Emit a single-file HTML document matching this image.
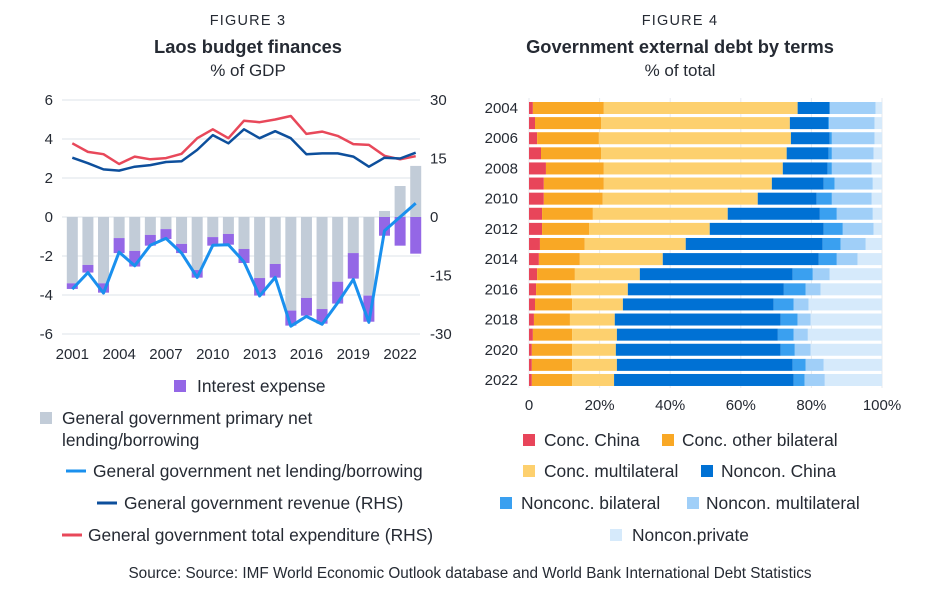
<!DOCTYPE html>
<html><head><meta charset="utf-8"><style>
body{margin:0;background:#fff;}
svg text{font-family:"Liberation Sans",sans-serif;fill:#252a33;}
</style></head><body>
<svg id="s" width="946" height="594" viewBox="0 0 946 594" xmlns="http://www.w3.org/2000/svg">
<text x="248" y="25" text-anchor="middle" font-size="14.5" letter-spacing="1.2">FIGURE 3</text>
<text x="248" y="53" text-anchor="middle" font-size="18.3" font-weight="bold">Laos budget finances</text>
<text x="248" y="76" text-anchor="middle" font-size="17">% of GDP</text>
<text x="680" y="25" text-anchor="middle" font-size="14.5" letter-spacing="1.2">FIGURE 4</text>
<text x="680" y="53" text-anchor="middle" font-size="18.3" font-weight="bold">Government external debt by terms</text>
<text x="680" y="76" text-anchor="middle" font-size="17">% of total</text>
<g id="left"></g>
<g id="right"></g>
<g font-size="17.4">
<rect x="174" y="380" width="12" height="12" fill="#9467e6"/>
<text x="197" y="392">Interest expense</text>
<rect x="40" y="412" width="12" height="12" fill="#c2ccd8"/>
<text x="62" y="424">General government primary net</text>
<text x="62" y="446">lending/borrowing</text>
<line x1="66" y1="471" x2="86" y2="471" stroke="#1a90ee" stroke-width="3"/>
<text x="93" y="477">General government net lending/borrowing</text>
<line x1="97" y1="503" x2="117" y2="503" stroke="#0d4f9c" stroke-width="3"/>
<text x="124" y="509">General government revenue (RHS)</text>
<line x1="62" y1="535" x2="82" y2="535" stroke="#e8485a" stroke-width="3"/>
<text x="88" y="541">General government total expenditure (RHS)</text>
</g>
<g font-size="17.4">
<rect x="523" y="434" width="12" height="12" fill="#e8455a"/>
<text x="544" y="446">Conc. China</text>
<rect x="662" y="434" width="12" height="12" fill="#f9a825"/>
<text x="682" y="446">Conc. other bilateral</text>
<rect x="523" y="465" width="12" height="12" fill="#fdd06e"/>
<text x="544" y="477">Conc. multilateral</text>
<rect x="701" y="465" width="12" height="12" fill="#0071d4"/>
<text x="721" y="477">Noncon. China</text>
<rect x="500" y="497" width="12" height="12" fill="#3aa0f0"/>
<text x="521" y="509">Nonconc. bilateral</text>
<rect x="687" y="497" width="12" height="12" fill="#a0cff8"/>
<text x="706" y="509">Noncon. multilateral</text>
<rect x="610" y="529" width="12" height="12" fill="#d6eafb"/>
<text x="632" y="541">Noncon.private</text>
</g>
<text x="470" y="578" text-anchor="middle" font-size="15.3">Source: Source: IMF World Economic Outlook database and World Bank International Debt Statistics</text>
</svg>
<script>
const years = [2001,2002,2003,2004,2005,2006,2007,2008,2009,2010,2011,2012,2013,2014,2015,2016,2017,2018,2019,2020,2021,2022,2023];
const primary = [-3.4,-2.46,-3.4,-1.08,-1.74,-0.92,-0.62,-1.38,-2.72,-1.03,-0.87,-1.64,-3.13,-2.41,-4.8,-4.15,-4.72,-3.32,-1.85,-4.03,0.31,1.59,2.62];
const interest = [0.29,0.39,0.48,0.77,0.8,0.55,0.51,0.47,0.39,0.44,0.55,0.72,0.9,0.7,0.77,0.91,0.75,1.12,1.31,1.34,0.96,1.47,1.88];
const netLending = [-3.7,-2.85,-3.9,-1.8,-2.5,-1.45,-1.1,-1.85,-3.1,-1.45,-1.42,-2.3,-4.05,-3.1,-5.6,-5.1,-5.5,-4.4,-3.2,-5.4,-0.7,0.0,0.7];
const revenue = [15.2,13.8,12.2,11.9,12.9,13.3,14.1,14.3,17.2,21.0,18.9,22.5,20.2,22.0,20.2,16.1,16.3,16.3,15.5,12.9,15.2,15.0,16.5];
const expenditure = [18.9,16.7,16.1,13.6,15.5,14.8,15.1,16.2,20.2,22.5,20.2,24.7,24.3,25.0,25.9,21.3,21.9,20.8,18.7,18.5,15.7,14.8,15.6];
const leftTicks = [6,4,2,0,-2,-4,-6];
const rightTicks = [30,15,0,-15,-30];
const xTickYears = [2001,2004,2007,2010,2013,2016,2019,2022];

const debtYears = [2004,2005,2006,2007,2008,2009,2010,2011,2012,2013,2014,2015,2016,2017,2018,2019,2020,2021,2022];
const concChina = [1.1,1.7,2.3,3.4,4.8,4.2,4.2,3.7,3.7,3.1,2.8,2.3,2.0,1.7,1.4,1.1,0.8,0.8,0.8];
const concBilateral = [20.1,18.7,17.5,17.0,16.4,17.0,16.7,14.4,13.3,12.7,11.6,10.7,9.9,10.5,10.2,11.1,11.4,11.4,11.4];
const concMultilateral = [54.9,53.5,54.4,52.6,50.7,47.6,43.9,38.2,34.2,28.6,23.5,18.4,16.1,14.4,12.7,12.7,12.4,12.7,11.9];
const nonconChina = [9.1,10.8,11.0,11.9,12.7,14.7,16.7,26.1,32.3,38.8,44.2,43.3,44.2,42.7,47.0,45.6,46.7,49.8,50.9];
const nonconBilateral = [0,0.3,0.6,0.9,1.2,3.1,4.3,4.8,5.4,5.1,5.1,5.7,6.2,5.7,4.8,4.5,4.0,3.7,3.1];
const nonconMultilateral = [13.0,12.9,12.1,11.8,11.3,10.8,11.3,10.2,8.7,7.1,5.9,4.8,4.2,4.2,3.7,4.0,4.5,5.1,5.7];
const nonconPrivate = [1.8,2.1,2.1,2.4,2.9,2.6,2.9,2.6,2.4,4.6,6.9,14.8,17.4,20.8,20.2,21.0,20.2,16.5,16.2];
const pctTicks = [0,20,40,60,80,100];

const NS='http://www.w3.org/2000/svg';
function mk(parent,tag,attrs,txt){const e=document.createElementNS(NS,tag);for(const k in attrs)e.setAttribute(k,attrs[k]);if(txt!==undefined)e.textContent=txt;parent.appendChild(e);return e;}

const L=document.getElementById('left');
const yL=v=>217-v*19.5;
const yR=v=>217-v*3.9;
const xL=yr=>72.3+(yr-2001)*15.61;
leftTicks.forEach(t=>{
  const g=mk(L,'line',{x1:62,x2:420,y1:yL(t),y2:yL(t),stroke:'#dde3ea','stroke-width':1});
  
  
  const tx=mk(L,'text',{x:53,y:yL(t)+5,'text-anchor':'end','font-size':15},String(t));
  
  
});
rightTicks.forEach(t=>{
  const tx=mk(L,'text',{x:430,y:yR(t)+5,'font-size':15},String(t));
  
  
});
xTickYears.forEach(yr=>{
  const tx=mk(L,'text',{x:xL(yr),y:359,'text-anchor':'middle','font-size':15},String(yr));
  
  
});
years.forEach((yr,i)=>{
  const p=primary[i], x=xL(yr)-5.5;
  const r=mk(L,'rect',{x:x,width:11,y:Math.min(yL(0),yL(p)),height:Math.abs(yL(p)-yL(0)),fill:'#c2ccd8'});
  
  
  const base=Math.min(p,0);
  const r2=mk(L,'rect',{x:x,width:11,y:yL(base),height:interest[i]*19.5,fill:'#9467e6'});
  
  
});
function line(vals,fy,color,w,name){
  const d=vals.map((v,i)=>(i?'L':'M')+xL(years[i]).toFixed(1)+','+fy(v).toFixed(1)).join('');
  const p=mk(L,'path',{d:d,fill:'none',stroke:color,'stroke-width':w,'stroke-linejoin':'round'});
  
  
}
line(expenditure,yR,'#e8485a',2.5,'expenditure-line');
line(revenue,yR,'#0d4f9c',2.5,'revenue-line');
line(netLending,yL,'#1a90ee',3,'net-lending-line');

const R=document.getElementById('right');
const xP=v=>529+v*3.53;
const yB=i=>108+i*15.11;
pctTicks.forEach(t=>{
  const g=mk(R,'line',{x1:xP(t),x2:xP(t),y1:98,y2:388,stroke:'#e6eaef','stroke-width':1});
  
  
  const tx=mk(R,'text',{x:xP(t),y:410,'text-anchor':'middle','font-size':15},t===0?'0':t+'%');
  
  
});
const series=[[concChina,'#e8455a'],[concBilateral,'#f9a825'],[concMultilateral,'#fdd06e'],[nonconChina,'#0071d4'],[nonconBilateral,'#3aa0f0'],[nonconMultilateral,'#a0cff8'],[nonconPrivate,'#d6eafb']];
debtYears.forEach((yr,i)=>{
  let acc=0;
  series.forEach(([arr,c])=>{
    const r=mk(R,'rect',{x:xP(acc),y:yB(i)-6,width:arr[i]*3.53,height:12,fill:c});
    
    
    acc+=arr[i];
  });
  if(i%2===0){
    const tx=mk(R,'text',{x:518,y:yB(i)+5,'text-anchor':'end','font-size':15},String(yr));
    
    
  }
});
</script>
</body></html>
